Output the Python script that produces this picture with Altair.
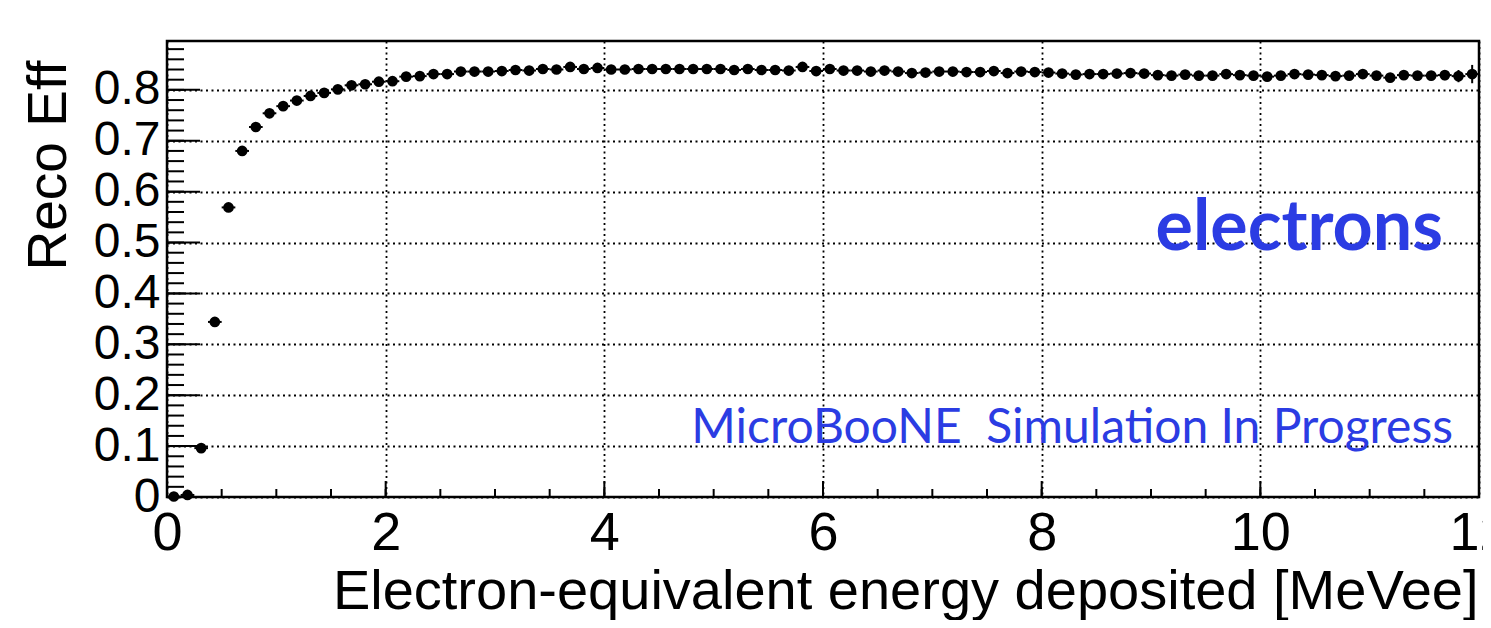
import altair as alt
import pandas as pd

# ---- data ----
bin_width = 0.125
bin_centers = [round((i + 0.5) * bin_width, 4) for i in range(96)]
eff = [
    0.001, 0.004, 0.096, 0.344, 0.569, 0.680, 0.727, 0.754, 0.768, 0.779,
    0.788, 0.794, 0.801, 0.809, 0.811, 0.816, 0.817, 0.826, 0.827, 0.831,
    0.831, 0.836, 0.836, 0.836, 0.837, 0.839, 0.838, 0.841, 0.840, 0.845,
    0.841, 0.843, 0.840, 0.840, 0.841, 0.841, 0.841, 0.841, 0.841, 0.841,
    0.841, 0.839, 0.841, 0.839, 0.839, 0.838, 0.845, 0.837, 0.841, 0.838,
    0.838, 0.836, 0.838, 0.836, 0.833, 0.834, 0.836, 0.836, 0.835, 0.835,
    0.837, 0.833, 0.836, 0.835, 0.834, 0.832, 0.830, 0.831, 0.831, 0.832,
    0.833, 0.832, 0.829, 0.828, 0.830, 0.828, 0.828, 0.831, 0.829, 0.828,
    0.826, 0.828, 0.831, 0.830, 0.829, 0.827, 0.828, 0.831, 0.828, 0.824,
    0.829, 0.828, 0.828, 0.829, 0.827, 0.831,
]
eff_err = (
    [0.001, 0.002, 0.005, 0.006, 0.006, 0.005, 0.005, 0.004, 0.004, 0.004]
    + [0.003] * 31
    + [0.004] * 20
    + [0.005] * 15
    + [0.006] * 10
    + [0.007, 0.007, 0.008, 0.008, 0.008, 0.009, 0.009, 0.010]
    + [0.012, 0.018]
)

x_major = [0, 2, 4, 6, 8, 10, 12]
x_minor = [round(i * 0.5, 1) for i in range(25)]
y_major = [0.0, 0.1, 0.2, 0.3, 0.4, 0.5, 0.6, 0.7, 0.8]
y_minor = [round(i * 0.02, 2) for i in range(45)]

x_title = "Electron-equivalent energy deposited [MeVee]"
y_title = "Reco Eff"
label_big = "electrons"
label_small = "MicroBooNE\u00a0 Simulation In Progress"

# ---- build tables ----
df = pd.DataFrame({"x": bin_centers, "y": eff, "err": eff_err})
df["xlo"] = df["x"] - bin_width / 2
df["xhi"] = df["x"] + bin_width / 2
df["ylo"] = df["y"] - df["err"]
df["yhi"] = df["y"] + df["err"]

W, H = 1312, 456
AXF = "Liberation Sans"
BLUE = "#2b3ce3"

xs = alt.Scale(domain=[0, 12], nice=False, zero=False)
ys = alt.Scale(domain=[0, 0.896], nice=False, zero=False)

xaxis = alt.Axis(
    values=x_major, format="d", title=x_title, labelFont=AXF, labelFontSize=54,
    labelColor="black", labelPadding=9, ticks=False, domain=False,
    grid=True, gridColor="black", gridDash=[2, 3.5], gridWidth=1.8, gridOpacity=1,
    titleFont=AXF, titleFontSize=56, titleFontWeight="normal", titleColor="black",
    titleAnchor="end", titleAlign="right", titleBaseline="alphabetic",
    titleX=W - 1, titleY=111, labelFlush=False, labelOverlap=False,
)
yaxis = alt.Axis(
    values=y_major, title=y_title, labelFont=AXF, labelFontSize=48,
    labelColor="black", labelPadding=7, ticks=False, domain=False,
    labelExpr="datum.value == 0 ? '0' : format(datum.value, '.1f')",
    grid=True, gridColor="black", gridDash=[2, 3.5], gridWidth=1.8, gridOpacity=1,
    titleFont=AXF, titleFontSize=55, titleFontWeight="normal", titleColor="black",
    titleAngle=-90, titleAlign="right", titleBaseline="alphabetic",
    titleX=-102, titleY=19, labelFlush=False, labelOverlap=False,
)

base = alt.Chart(df)

points = base.mark_point(filled=True, size=115, color="black", opacity=1).encode(
    x=alt.X("x:Q", scale=xs, axis=xaxis),
    y=alt.Y("y:Q", scale=ys, axis=yaxis),
)
hbars = base.mark_rule(color="black", strokeWidth=2).encode(
    x="xlo:Q", x2="xhi:Q", y="y:Q"
)
vbars = base.mark_rule(color="black", strokeWidth=2).encode(
    x="x:Q", y="ylo:Q", y2="yhi:Q"
)

ymaj = alt.Chart(pd.DataFrame({"v": y_major})).mark_rule(color="black", strokeWidth=2).encode(
    y="v:Q", x=alt.value(0), x2=alt.value(33)
)
ymin = alt.Chart(pd.DataFrame({"v": y_minor})).mark_rule(color="black", strokeWidth=2).encode(
    y="v:Q", x=alt.value(0), x2=alt.value(17)
)
xmaj = alt.Chart(pd.DataFrame({"v": x_major})).mark_rule(color="black", strokeWidth=2).encode(
    x="v:Q", y=alt.value(H), y2=alt.value(H - 16)
)
xmin = alt.Chart(pd.DataFrame({"v": x_minor})).mark_rule(color="black", strokeWidth=2).encode(
    x="v:Q", y=alt.value(H), y2=alt.value(H - 8)
)

txt_big = alt.Chart(pd.DataFrame({"t": [label_big]})).mark_text(
    font="Lato", fontSize=70, fontWeight="bold", color=BLUE, align="right",
    baseline="alphabetic"
).encode(text="t:N", x=alt.value(1276), y=alt.value(209))

txt_small = alt.Chart(pd.DataFrame({"t": [label_small]})).mark_text(
    font="Lato", fontSize=48, color=BLUE, align="right", baseline="alphabetic"
).encode(text="t:N", x=alt.value(1286), y=alt.value(402))

chart = alt.layer(
    points, hbars, vbars, ymaj, ymin, xmaj, xmin, txt_big, txt_small
).properties(
    width=W, height=H,
    autosize=alt.AutoSizeParams(type="none"),
    padding={"left": 159, "top": 33, "right": 4, "bottom": 123},
    background="white",
).configure_view(stroke="black", strokeWidth=2.5)

chart.save("out.html", embed_options={"renderer": "svg", "actions": False})
